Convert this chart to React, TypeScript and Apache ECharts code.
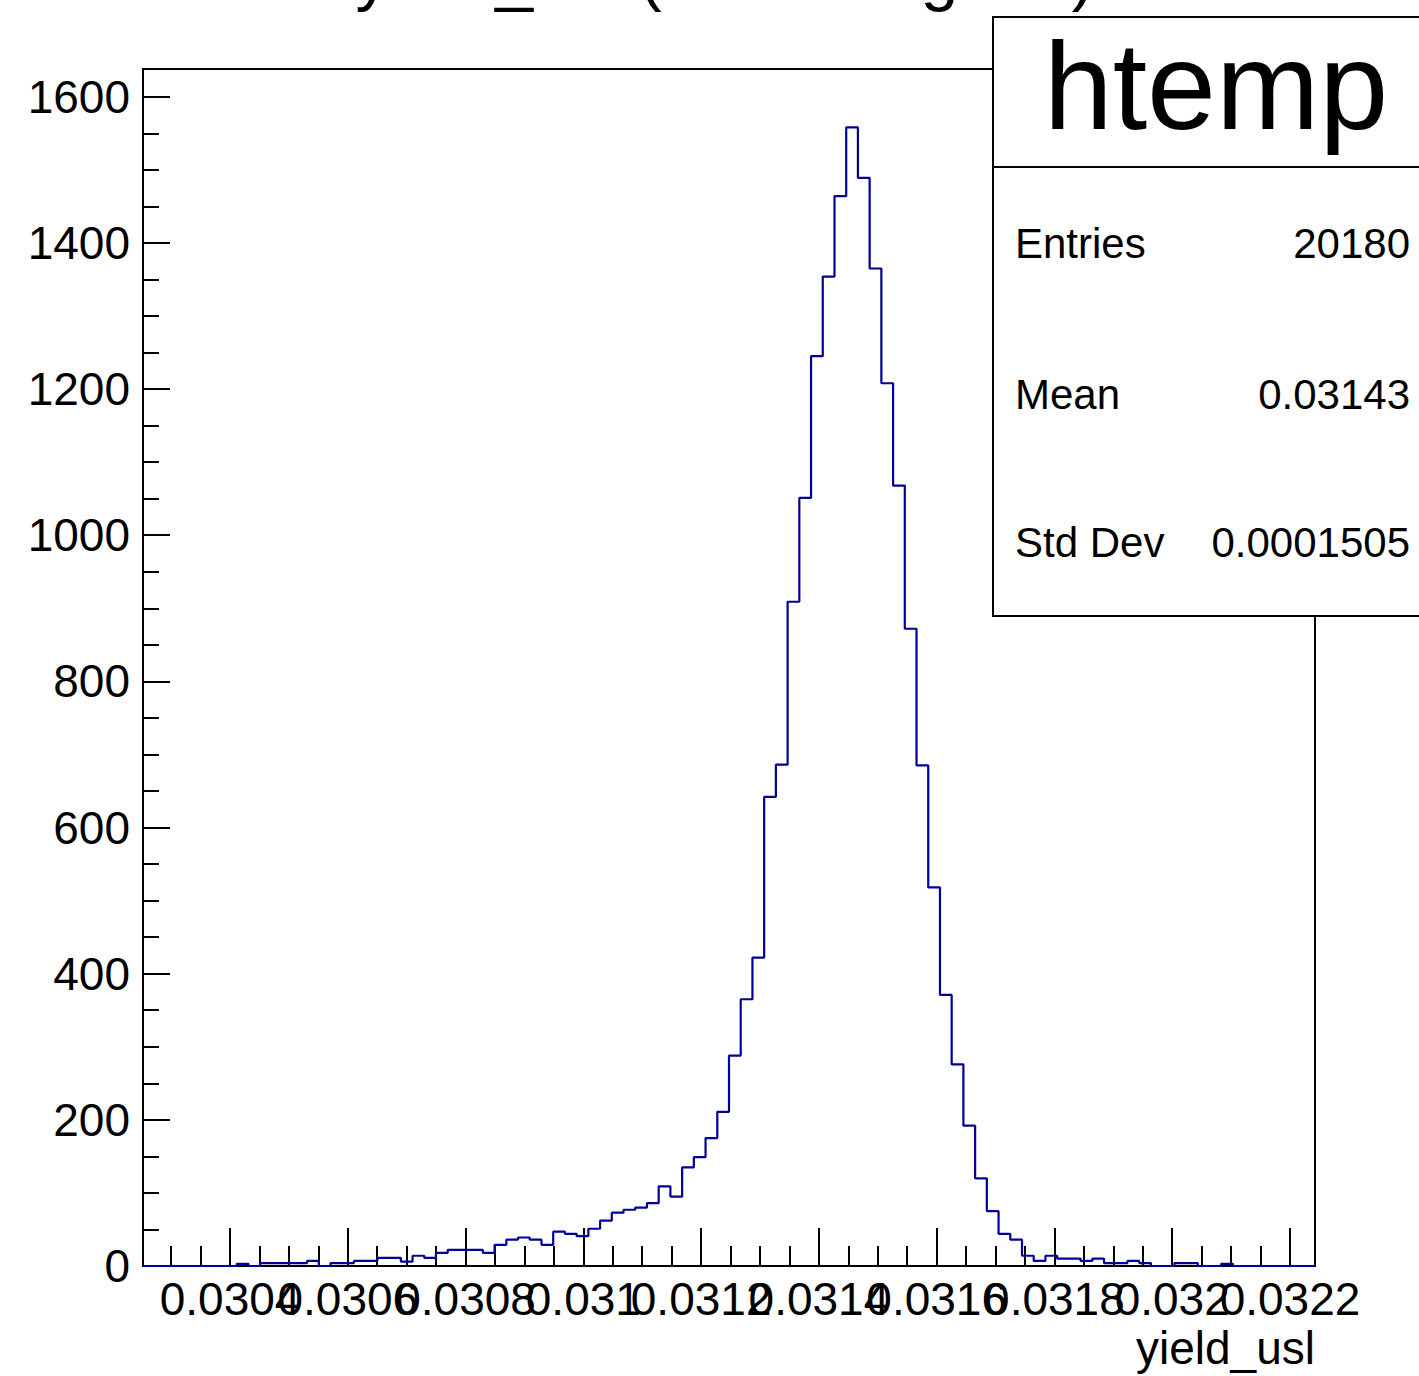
import React, { useEffect, useRef } from "react";
import * as echarts from "echarts";

// Histogram definition (ROOT htemp, 100 bins)
const X_MIN = 0.0302522;
const X_MAX = 0.0322425;
const N_BINS = 100;
const Y_MAX = 1638;

const binCounts: number[] = [
  0, 0, 0, 0, 0, 0, 0, 0, 3, 0,
  4, 4, 4, 4, 7, 0, 4, 4, 7, 7,
  11, 11, 6, 14, 11, 18, 22, 22, 22, 18,
  29, 36, 39, 36, 29, 47, 44, 41, 51, 62,
  73, 77, 80, 86, 109, 95, 135, 149, 175, 211,
  288, 365, 422, 642, 686, 909, 1051, 1245, 1354, 1464,
  1558, 1489, 1365, 1208, 1068, 872, 685, 518, 371, 276,
  192, 120, 75, 44, 36, 14, 7, 14, 10, 10,
  7, 10, 4, 4, 7, 4, 0, 0, 4, 4,
  0, 0, 3, 0, 0, 0, 0, 0, 0, 0,
];

const xMajorTicks: number[] = [0.0304, 0.0306, 0.0308, 0.031, 0.0312, 0.0314, 0.0316, 0.0318, 0.032, 0.0322];
const X_MINOR_STEP = 0.00005;

const titleText = "yield_usl (fit>0 && good)";
const xAxisTitle = "yield_usl";
const statsName = "htemp";
const statsLabels: string[] = ["Entries", "Mean", "Std Dev"];
const statsValues: string[] = ["20180", "0.03143", "0.0001505"];

const FONT = "'Liberation Sans', Arial, Helvetica, sans-serif";

export default function App() {
  const ref = useRef<HTMLDivElement>(null);

  useEffect(() => {
    if (!ref.current) return;
    const chart = echarts.init(ref.current, null, { renderer: "svg" });

    const binW = (X_MAX - X_MIN) / N_BINS;
    const data: [number, number][] = binCounts.map((c, i) => [X_MIN + i * binW, c]);
    data.push([X_MAX, binCounts[binCounts.length - 1]]);

    const minors: number[] = [];
    const k0 = Math.ceil(X_MIN / X_MINOR_STEP - 1e-9);
    const k1 = Math.floor(X_MAX / X_MINOR_STEP + 1e-9);
    for (let k = k0; k <= k1; k++) {
      const v = k * X_MINOR_STEP;
      if (!xMajorTicks.some((m) => Math.abs(m - v) < 1e-9)) minors.push(v);
    }

    const tickStyle = { color: "#000", width: 2 };
    const statsRowsY = [243, 394, 542];

    const baseX = {
      type: "value",
      min: X_MIN,
      max: X_MAX,
      position: "bottom",
      axisLine: { show: false },
      splitLine: { show: false },
    };

    const labelAxis = (vals: number[]) => ({
      ...baseX,
      axisTick: { show: false },
      axisLabel: {
        show: true,
        customValues: vals,
        showMinLabel: true,
        showMaxLabel: true,
        hideOverlap: false,
        margin: 10,
        fontSize: 46,
        fontFamily: FONT,
        color: "#000",
        formatter: (v: number) => String(parseFloat(v.toPrecision(6))),
      },
    });

    const evenTicks = xMajorTicks.filter((_, i) => i % 2 === 0);
    const oddTicks = xMajorTicks.filter((_, i) => i % 2 === 1);

    chart.setOption({
      animation: false,
      backgroundColor: "#fff",
      grid: {
        left: 143,
        top: 69,
        width: 1172,
        height: 1197,
        show: true,
        borderColor: "#000",
        borderWidth: 2,
        backgroundColor: "#fff",
        containLabel: false,
      },
      xAxis: [
        labelAxis(evenTicks),
        labelAxis(oddTicks),
        {
          ...baseX,
          axisLabel: { show: false },
          axisTick: {
            show: true,
            inside: true,
            length: 38,
            lineStyle: tickStyle,
            customValues: xMajorTicks,
          },
        },
        {
          ...baseX,
          axisLabel: { show: false },
          axisTick: {
            show: true,
            inside: true,
            length: 20,
            lineStyle: tickStyle,
            customValues: minors,
          },
        },
      ],
      yAxis: {
        type: "value",
        min: 0,
        max: Y_MAX,
        interval: 200,
        axisLine: { show: false },
        splitLine: { show: false },
        axisTick: { show: true, inside: true, length: 27, lineStyle: tickStyle },
        minorTick: { show: true, splitNumber: 4, length: 16, lineStyle: tickStyle },
        axisLabel: {
          margin: 13,
          fontSize: 46,
          fontFamily: FONT,
          color: "#000",
          formatter: (v: number) => (v % 200 === 0 ? String(v) : ""),
        },
      },
      series: [
        {
          type: "line",
          xAxisIndex: 0,
          step: "end",
          symbol: "none",
          data,
          lineStyle: { color: "#000099", width: 2.2 },
          clip: true,
          z: 5,
        },
      ],
      graphic: [
        {
          type: "text",
          z: 100,
          x: 725,
          y: -26,
          style: {
            text: titleText,
            fontSize: 68,
            fontFamily: FONT,
            fill: "#000",
            align: "center",
            verticalAlign: "middle",
          },
        },
        {
          type: "text",
          z: 100,
          x: 1315,
          y: 1348,
          style: {
            text: xAxisTitle,
            fontSize: 46,
            fontFamily: FONT,
            fill: "#000",
            align: "right",
            verticalAlign: "middle",
          },
        },
        {
          type: "rect",
          z: 100,
          shape: { x: 993, y: 17, width: 460, height: 599 },
          style: { fill: "#fff", stroke: "#000", lineWidth: 2 },
        },
        {
          type: "line",
          z: 101,
          shape: { x1: 993, y1: 167, x2: 1440, y2: 167 },
          style: { stroke: "#000", lineWidth: 2 },
        },
        {
          type: "text",
          z: 101,
          x: 1216,
          y: 86,
          style: {
            text: statsName,
            fontSize: 124,
            fontFamily: FONT,
            fill: "#000",
            align: "center",
            verticalAlign: "middle",
          },
        },
        ...statsLabels.map((t, i) => ({
          type: "text",
          z: 101,
          x: 1015,
          y: statsRowsY[i],
          style: {
            text: t,
            fontSize: 42,
            fontFamily: FONT,
            fill: "#000",
            align: "left",
            verticalAlign: "middle",
          },
        })),
        ...statsValues.map((t, i) => ({
          type: "text",
          z: 101,
          x: 1410,
          y: statsRowsY[i],
          style: {
            text: t,
            fontSize: 42,
            fontFamily: FONT,
            fill: "#000",
            align: "right",
            verticalAlign: "middle",
          },
        })),
      ],
    });

    return () => {
      chart.dispose();
    };
  }, []);

  return (
    <div
      ref={ref}
      style={{ position: "absolute", left: 0, top: 0, width: 1419, height: 1376 }}
    />
  );
}
